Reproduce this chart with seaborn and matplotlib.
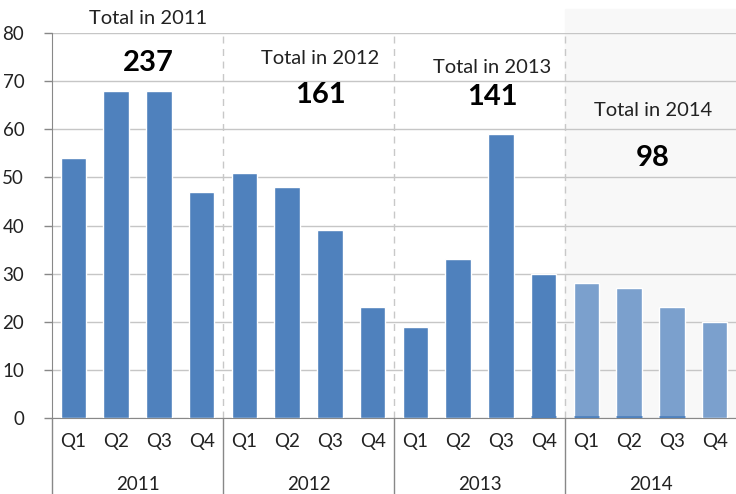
import pandas as pd
import numpy as np
import seaborn as sns
import matplotlib.pyplot as plt
import matplotlib.transforms as mtransforms

# quarterly counts
years = ["2011", "2012", "2013", "2014"]
quarters = ["Q1", "Q2", "Q3", "Q4"]
v2011 = [54, 68, 68, 47]
v2012 = [51, 48, 39, 23]
v2013 = [19, 33, 59, 30]
v2014 = [28, 27, 23, 20]
totals = [237, 161, 141, 98]

values = v2011 + v2012 + v2013 + v2014
df = pd.DataFrame({
    "slot": [f"{y} {q}" for y in years for q in quarters],
    "quarter": quarters * len(years),
    "year": [y for y in years for _ in quarters],
    "count": values,
})
df["period"] = np.where(df["year"] == "2014", "current", "past")

sns.set_style("white")
plt.rcParams["font.family"] = ["Lato", "DejaVu Sans"]

fig = plt.figure(figsize=(7.36, 4.94), dpi=100)
ax = fig.add_axes([0.0707, 0.1538, 0.9293, 0.7794])

# light shading behind 2014
span = ax.axvspan(11.5, 15.5, ymin=0, ymax=1.062, color="#f8f8f8", zorder=0)
span.set_clip_on(False)

sns.barplot(data=df, x="slot", y="count", hue="period",
            palette={"past": "#4f81bd", "current": "#7ba0cd"},
            saturation=1, dodge=False, width=0.6, legend=False, ax=ax, zorder=3)
for p in ax.patches[12:16]:
    ax.plot([p.get_x(), p.get_x() + p.get_width()], [0.3, 0.3],
            color="#4f81bd", lw=2, zorder=4, solid_capstyle="butt")

ax.set_xlim(-0.5, 15.5)
ax.set_ylim(0, 80)
ax.set_yticks(range(0, 81, 10))
ax.yaxis.grid(True, color="#c6c6c6", lw=1)
ax.set_axisbelow(True)
ax.set_xlabel("")
ax.set_ylabel("")
ax.set_xticks(range(16))
ax.set_xticklabels(df["quarter"], fontsize=13.5, color="#222222")
ax.tick_params(axis="x", length=0, pad=11)
ax.tick_params(axis="y", length=6, width=1, color="#888888", labelsize=13.5,
               labelcolor="#222222", pad=14, left=True)
for s in ["top", "right"]:
    ax.spines[s].set_visible(False)
ax.spines["left"].set_color("#888888")
ax.spines["bottom"].set_color("#888888")

# dashed separators between years
for xs in [3.5, 7.5, 11.5]:
    ax.axvline(xs, color="#c8c8c8", ls=(0, (5, 4)), lw=1, zorder=2)

# year labels and solid separators below the axis
trans = mtransforms.blended_transform_factory(ax.transData, ax.transAxes)
for i, y in enumerate(years):
    ax.text(i * 4 + 1.5, -0.172, y, transform=trans, ha="center", va="center",
            fontsize=13.5, color="#222222")
for xs in [-0.5, 3.5, 7.5, 11.5]:
    ax.plot([xs, xs], [0, -0.2], transform=trans, color="#888888", lw=1,
            clip_on=False)

# totals per year
labels_pos = [(1.75, 83.1, 73.8), (5.77, 74.8, 67.1), (9.8, 72.9, 66.7), (13.56, 64.0, 54.0)]
for (xp, ya, yb), y, t in zip(labels_pos, years, totals):
    ax.text(xp, ya, f"Total in {y}", ha="center", va="center", fontsize=14.5,
            color="#222222", clip_on=False)
    ax.text(xp, yb, str(t), ha="center", va="center", fontsize=21,
            fontweight="bold", color="black", clip_on=False)

fig.savefig("out.png", dpi=100)
